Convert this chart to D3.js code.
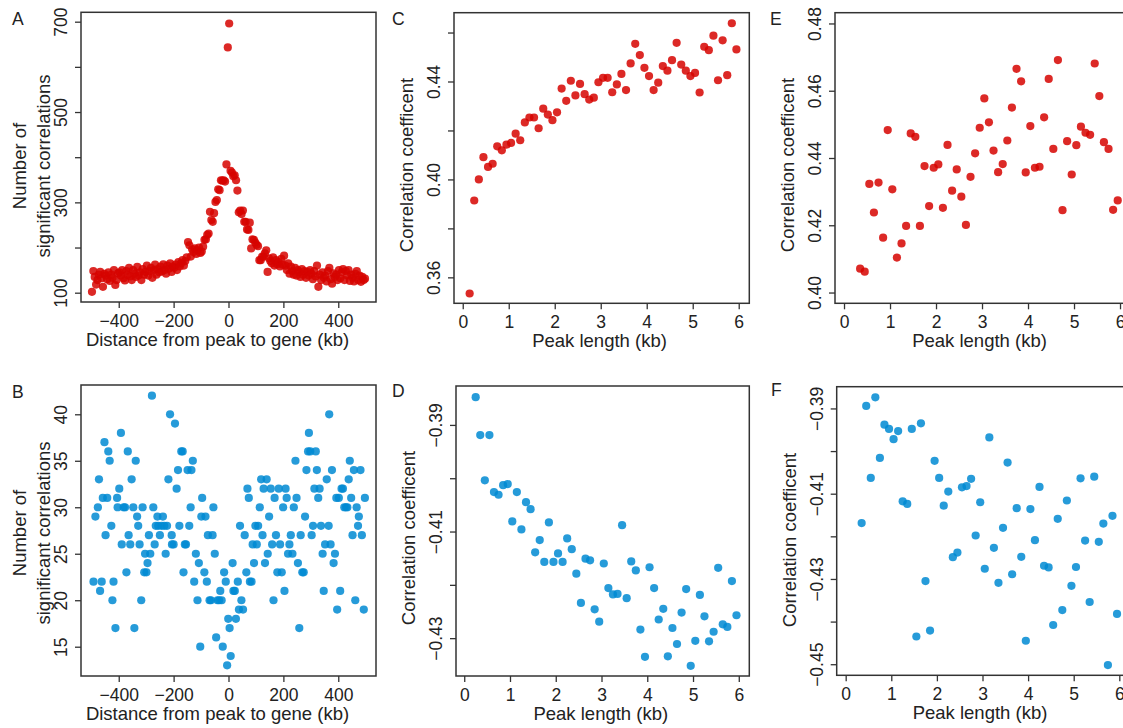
<!DOCTYPE html>
<html>
<head>
<meta charset="utf-8">
<script src="https://cdn.jsdelivr.net/npm/d3@7"></script>
<style>
  body { margin: 0; background: #fff; }
  text { font-family: "Liberation Sans", Arial, Helvetica, sans-serif; fill: #222; }
</style>
</head>
<body>
<svg id="fig" width="1123" height="728"></svg>
<script>
// ---- panel A: all peaks, distance bins (kb) vs number of significant correlations
const distA = [
  -497.5,-492.5,-487.5,-482.5,-477.5,-472.5,-467.5,-462.5,-457.5,-452.5,
  -447.5,-442.5,-437.5,-432.5,-427.5,-422.5,-417.5,-412.5,-407.5,-402.5,
  -397.5,-392.5,-387.5,-382.5,-377.5,-372.5,-367.5,-362.5,-357.5,-352.5,
  -347.5,-342.5,-337.5,-332.5,-327.5,-322.5,-317.5,-312.5,-307.5,-302.5,
  -297.5,-292.5,-287.5,-282.5,-277.5,-272.5,-267.5,-262.5,-257.5,-252.5,
  -247.5,-242.5,-237.5,-232.5,-227.5,-222.5,-217.5,-212.5,-207.5,-202.5,
  -197.5,-192.5,-187.5,-182.5,-177.5,-172.5,-167.5,-162.5,-157.5,-152.5,
  -147.5,-142.5,-137.5,-132.5,-127.5,-122.5,-117.5,-112.5,-107.5,-102.5,
  -97.5,-92.5,-87.5,-82.5,-77.5,-72.5,-67.5,-62.5,-57.5,-52.5,
  -47.5,-42.5,-37.5,-32.5,-27.5,-22.5,-17.5,-12.5,-7.5,-2.5,
  2.5,7.5,12.5,17.5,22.5,27.5,32.5,37.5,42.5,47.5,
  52.5,57.5,62.5,67.5,72.5,77.5,82.5,87.5,92.5,97.5,
  102.5,107.5,112.5,117.5,122.5,127.5,132.5,137.5,142.5,147.5,
  152.5,157.5,162.5,167.5,172.5,177.5,182.5,187.5,192.5,197.5,
  202.5,207.5,212.5,217.5,222.5,227.5,232.5,237.5,242.5,247.5,
  252.5,257.5,262.5,267.5,272.5,277.5,282.5,287.5,292.5,297.5,
  302.5,307.5,312.5,317.5,322.5,327.5,332.5,337.5,342.5,347.5,
  352.5,357.5,362.5,367.5,372.5,377.5,382.5,387.5,392.5,397.5,
  402.5,407.5,412.5,417.5,422.5,427.5,432.5,437.5,442.5,447.5,
  452.5,457.5,462.5,467.5,472.5,477.5,482.5,487.5,492.5,497.5
];
const countA = [
  102,148,135,118,128,140,146,132,113,142,
  138,130,145,126,140,133,150,117,128,143,
  145,138,150,132,127,148,140,155,136,128,
  150,142,135,157,138,145,128,152,140,146,
  160,138,148,155,133,150,162,140,152,145,
  158,147,163,150,142,160,153,165,146,158,
  155,162,150,168,158,165,172,160,170,178,
  212,205,180,196,190,198,186,194,200,188,
  191,202,217,218,228,231,279,261,257,276,
  301,305,329,327,349,348,349,346,384,643,
  696,370,366,358,360,349,326,278,282,274,
  282,257,257,240,239,255,198,218,217,211,
  206,203,172,172,180,180,187,194,146,176,
  170,165,178,160,172,163,168,158,175,162,
  182,160,150,165,142,158,148,140,155,138,
  150,145,135,152,140,148,133,146,138,150,
  142,130,148,136,160,113,140,128,145,133,
  138,125,148,155,130,120,143,135,140,128,
  150,132,145,152,128,148,138,150,126,140,
  133,125,142,148,128,138,124,135,128,131
];

// ---- panel B
const distB = [
  -492,-485,-476,-472,-468,-462,-458,-452,-448,-442,
  -438,-433,-427,-423,-419,-412,-406,-404,-398,-392,
  -389,-382,-377,-372,-367,-364,-358,-353,-347,-343,
  -338,-333,-329,-324,-318,-313,-307,-304,-299,-295,
  -290,-285,-279,-274,-269,-265,-259,-256,-250,-244,
  -239,-234,-229,-224,-219,-213,-207,-206,-200,-195,
  -189,-184,-179,-172,-167,-164,-159,-155,-149,-143,
  -138,-135,-130,-125,-119,-113,-108,-103,-99,-96,
  -88,-84,-79,-75,-69,-64,-58,-55,-50,-45,
  -40,-34,-30,-25,-21,-16,-10,-5,-1,4,
  8,15,18,23,27,34,38,42,47,53,
  59,65,69,74,78,84,88,93,98,103,
  108,114,119,124,128,133,139,143,148,154,
  159,164,168,173,178,183,188,194,199,204,
  208,212,217,222,227,233,238,244,248,253,
  258,263,269,274,279,284,290,293,298,303,
  308,313,318,322,327,332,337,343,347,352,
  358,365,367,372,377,383,388,393,396,402,
  407,412,417,422,428,433,438,442,447,452,
  457,462,467,472,475,481,486,493,497
];
const countB = [
  22,29,30,33,21,22,31,37,27,31,
  36,35,28,20,22,17,31,30,32,38,
  26,30,30,23,36,27,26,33,30,17,
  35,29,28,26,20,30,23,25,23,24,
  27,25,42,30,26,28,29,28,27,28,
  29,28,25,28,33,40,27,26,26,39,
  32,34,28,36,36,23,26,26,34,28,
  30,34,35,22,25,20,24,15,29,31,
  23,29,22,27,20,20,27,30,25,16,
  20,20,21,20,15,23,22,13,18,17,
  14,24,21,21,18,22,19,28,20,19,
  27,23,32,31,22,22,26,24,28,26,
  28,30,33,27,32,24,33,25,29,32,
  26,20,31,27,23,32,26,23,30,21,
  32,31,25,26,27,25,30,35,31,24,
  17,27,23,23,29,34,36,38,36,27,
  28,32,36,34,31,32,28,25,21,26,
  33,28,40,26,34,24,25,31,19,31,
  21,32,32,30,30,30,33,35,31,27,
  34,20,30,28,29,34,27,19,31
];

// ---- panel C
const lenC = [
  0.15,0.25,0.35,0.45,0.55,0.65,0.75,0.85,0.95,1.05,
  1.15,1.25,1.35,1.45,1.55,1.65,1.75,1.85,1.95,2.05,
  2.15,2.25,2.35,2.45,2.55,2.65,2.75,2.85,2.95,3.05,
  3.15,3.25,3.35,3.45,3.55,3.65,3.75,3.85,3.95,4.05,
  4.15,4.25,4.35,4.45,4.55,4.65,4.75,4.85,4.95,5.05,
  5.15,5.25,5.35,5.45,5.55,5.65,5.75,5.85,5.95
];
const corC = [
  0.3534,0.3914,0.4000,0.4091,0.4051,0.4064,0.4135,0.4119,0.4142,0.4149,
  0.4187,0.4160,0.4233,0.4253,0.4253,0.4209,0.4289,0.4265,0.4242,0.4274,
  0.4371,0.4321,0.4403,0.4343,0.4390,0.4348,0.4326,0.4334,0.4397,0.4415,
  0.4415,0.4356,0.4388,0.4431,0.4365,0.4474,0.4554,0.4508,0.4456,0.4422,
  0.4365,0.4395,0.4463,0.4444,0.4487,0.4558,0.4469,0.4444,0.4422,0.4435,
  0.4355,0.4542,0.4528,0.4587,0.4405,0.4568,0.4426,0.4638,0.4531
];

// ---- panel D
const lenD = [
  0.25,0.35,0.45,0.55,0.65,0.75,0.85,0.95,1.05,1.15,
  1.25,1.35,1.45,1.55,1.65,1.75,1.85,1.95,2.05,2.15,
  2.25,2.35,2.45,2.55,2.65,2.75,2.85,2.95,3.05,3.15,
  3.25,3.35,3.45,3.55,3.65,3.75,3.85,3.95,4.05,4.15,
  4.25,4.35,4.45,4.55,4.65,4.75,4.85,4.95,5.05,5.15,
  5.25,5.35,5.45,5.55,5.65,5.75,5.85,5.95
];
const corD = [
  -0.3848,-0.3919,-0.4004,-0.3919,-0.4026,-0.4031,-0.4013,-0.4011,-0.4081,-0.4026,
  -0.4096,-0.4045,-0.4058,-0.4139,-0.4116,-0.4157,-0.4083,-0.4157,-0.4141,-0.4157,
  -0.4113,-0.4133,-0.4179,-0.4234,-0.4151,-0.4154,-0.4246,-0.4269,-0.4160,-0.4206,
  -0.4218,-0.4217,-0.4088,-0.4225,-0.4156,-0.4173,-0.4284,-0.4335,-0.4167,-0.4206,
  -0.4265,-0.4245,-0.4334,-0.4281,-0.4311,-0.4252,-0.4208,-0.4352,-0.4305,-0.4219,
  -0.4259,-0.4306,-0.4288,-0.4168,-0.4274,-0.4279,-0.4193,-0.4257
];

// ---- panel E
const lenE = [
  0.35,0.45,0.55,0.65,0.75,0.85,0.95,1.05,1.15,1.25,
  1.35,1.45,1.55,1.65,1.75,1.85,1.95,2.05,2.15,2.25,
  2.35,2.45,2.55,2.65,2.75,2.85,2.95,3.05,3.15,3.25,
  3.35,3.45,3.55,3.65,3.75,3.85,3.95,4.05,4.15,4.25,
  4.35,4.45,4.55,4.65,4.75,4.85,4.95,5.05,5.15,5.25,
  5.35,5.45,5.55,5.65,5.75,5.85,5.95
];
const corE = [
  0.4071,0.4062,0.4323,0.4238,0.4327,0.4163,0.4483,0.4307,0.4104,0.4146,
  0.4198,0.4473,0.4463,0.4198,0.4376,0.4257,0.4371,0.4381,0.4252,0.4439,
  0.4303,0.4366,0.4285,0.4201,0.4344,0.4414,0.4490,0.4577,0.4506,0.4422,
  0.4358,0.4382,0.4452,0.4550,0.4665,0.4628,0.4357,0.4495,0.4371,0.4374,
  0.4521,0.4635,0.4427,0.4691,0.4245,0.4450,0.4351,0.4438,0.4493,0.4475,
  0.4469,0.4681,0.4584,0.4447,0.4427,0.4246,0.4274
];

// ---- panel F
const lenF = [
  0.35,0.45,0.55,0.65,0.75,0.85,0.95,1.05,1.15,1.25,
  1.35,1.45,1.55,1.65,1.75,1.85,1.95,2.05,2.15,2.25,
  2.35,2.45,2.55,2.65,2.75,2.85,2.95,3.05,3.15,3.25,
  3.35,3.45,3.55,3.65,3.75,3.85,3.95,4.05,4.15,4.25,
  4.35,4.45,4.55,4.65,4.75,4.85,4.95,5.05,5.15,5.25,
  5.35,5.45,5.55,5.65,5.75,5.85,5.95
];
const corF = [
  -0.4169,-0.3894,-0.4063,-0.3874,-0.4016,-0.3938,-0.3948,-0.3972,-0.3953,-0.4118,
  -0.4124,-0.3948,-0.4435,-0.3935,-0.4305,-0.4421,-0.4023,-0.4063,-0.4128,-0.4095,
  -0.4249,-0.4238,-0.4085,-0.4082,-0.4065,-0.4198,-0.4120,-0.4276,-0.3968,-0.4227,
  -0.4309,-0.4180,-0.4027,-0.4289,-0.4134,-0.4248,-0.4445,-0.4136,-0.4209,-0.4084,
  -0.4269,-0.4273,-0.4408,-0.4159,-0.4373,-0.4116,-0.4316,-0.4272,-0.4064,-0.4210,
  -0.4354,-0.4060,-0.4213,-0.4170,-0.4502,-0.4152,-0.4382
];

// tick values
const distTicks = [-400, -200, 0, 200, 400];
const lenTicks = [0, 1, 2, 3, 4, 5, 6];
const ticksA = [100, 200, 300, 400, 500, 600, 700], labelsA = [100, 300, 500, 700];
const ticksB = [15, 20, 25, 30, 35, 40], labelsB = ticksB;
const ticksC = [0.36, 0.38, 0.40, 0.42, 0.44, 0.46], labelsC = [0.36, 0.40, 0.44];
const ticksD = [-0.43, -0.42, -0.41, -0.40, -0.39], labelsD = [-0.43, -0.41, -0.39];
const ticksE = [0.40, 0.42, 0.44, 0.46, 0.48], labelsE = ticksE;
const ticksF = [-0.45, -0.44, -0.43, -0.42, -0.41, -0.40, -0.39], labelsF = [-0.45, -0.43, -0.41, -0.39];

const red = 'rgb(214,4,0)';
const blue = 'rgb(0,138,210)';
const ink = '#333';
const svg = d3.select('#fig');

const panels = [
  { letter: 'A', lx: 12, ly: 25, xs: distA, ys: countA, color: red,
    box: [81, 12.3, 376, 302], xd: [-537.5, 537.5], yd: [79.4, 720.8],
    xTicks: distTicks, yTicks: ticksA, yLabels: labelsA, yFmt: d3.format('d'),
    xTitle: 'Distance from peak to gene (kb)', xTitleX: 217.5,
    yTitle: ['Number of', 'significant correlations'], yTitleY: 166 },
  { letter: 'B', lx: 12, ly: 398, xs: distB, ys: countB, color: blue,
    box: [81, 385, 376, 676], xd: [-537.5, 537.5], yd: [11.85, 43.15],
    xTicks: distTicks, yTicks: ticksB, yLabels: labelsB, yFmt: d3.format('d'),
    xTitle: 'Distance from peak to gene (kb)', xTitleX: 217.5,
    yTitle: ['Number of', 'significant correlations'], yTitleY: 533 },
  { letter: 'C', lx: 392, ly: 25, xs: lenC, ys: corC, color: red,
    box: [454, 12.7, 749.3, 303.3], xd: [-0.19, 6.23], yd: [0.3494, 0.4681],
    xTicks: lenTicks, yTicks: ticksC, yLabels: labelsC, yFmt: d3.format('.2f'),
    xTitle: 'Peak length (kb)', xTitleX: 599.5,
    yTitle: ['Correlation coefficent'], yTitleY: 165 },
  { letter: 'D', lx: 392, ly: 397, xs: lenD, ys: corD, color: blue,
    box: [456, 386, 749.3, 676], xd: [-0.18, 6.23], yd: [-0.4371, -0.3827],
    xTicks: lenTicks, yTicks: ticksD, yLabels: labelsD, yFmt: d3.format('.2f'),
    xTitle: 'Peak length (kb)', xTitleX: 600.8,
    yTitle: ['Correlation coefficent'], yTitleY: 538 },
  { letter: 'E', lx: 770, ly: 25, xs: lenE, ys: corE, color: red,
    box: [835, 12.7, 1130.6, 303.3], xd: [-0.196, 6.23], yd: [0.3968, 0.4832],
    xTicks: lenTicks, yTicks: ticksE, yLabels: labelsE, yFmt: d3.format('.2f'),
    xTitle: 'Peak length (kb)', xTitleX: 979.5,
    yTitle: ['Correlation coefficent'], yTitleY: 165 },
  { letter: 'F', lx: 771, ly: 396, xs: lenF, ys: corF, color: blue,
    box: [836.7, 386.7, 1129.8, 675.3], xd: [-0.197, 6.23], yd: [-0.4526, -0.3849],
    xTicks: lenTicks, yTicks: ticksF, yLabels: labelsF, yFmt: d3.format('.2f'),
    xTitle: 'Peak length (kb)', xTitleX: 980,
    yTitle: ['Correlation coefficent'], yTitleY: 540 }
];

function drawPanel(p) {
  const [l, t, r, b] = p.box;
  const x = d3.scaleLinear().domain(p.xd).range([l, r]);
  const y = d3.scaleLinear().domain(p.yd).range([b, t]);
  const g = svg.append('g');

  // points
  g.append('g').selectAll('circle')
    .data(d3.zip(p.xs, p.ys))
    .join('circle')
    .attr('cx', d => x(d[0]))
    .attr('cy', d => y(d[1]))
    .attr('r', 4.1)
    .attr('fill', p.color)
    .attr('fill-opacity', 0.85);

  // frame
  g.append('rect')
    .attr('x', l).attr('y', t)
    .attr('width', r - l).attr('height', b - t)
    .attr('fill', 'none')
    .attr('stroke', ink)
    .attr('stroke-width', 1.5);

  // x axis
  const xa = g.append('g')
    .attr('transform', `translate(0,${b})`)
    .call(d3.axisBottom(x).tickValues(p.xTicks).tickSize(6).tickSizeOuter(0).tickFormat(d3.format('d')));
  xa.attr('font-family', null).attr('font-size', 17.5);
  xa.select('.domain').remove();
  xa.selectAll('.tick line').attr('stroke', ink).attr('stroke-width', 1.3);
  xa.selectAll('.tick text').attr('y', 25).attr('dy', null).attr('fill', '#222');

  // y axis, labels rotated as in R
  const ya = g.append('g')
    .attr('transform', `translate(${l},0)`)
    .call(d3.axisLeft(y).tickValues(p.yTicks).tickSize(6).tickSizeOuter(0)
      .tickFormat(v => p.yLabels.includes(v) ? p.yFmt(v) : ''));
  ya.attr('font-family', null).attr('font-size', 17.5);
  ya.select('.domain').remove();
  ya.selectAll('.tick line').attr('stroke', ink).attr('stroke-width', 1.3);
  ya.selectAll('.tick text')
    .attr('x', 0).attr('dy', '0.35em')
    .attr('text-anchor', 'middle')
    .attr('transform', 'translate(-20,0) rotate(-90)')
    .attr('fill', '#222');

  // titles
  g.append('text')
    .attr('x', p.xTitleX).attr('y', b + 44)
    .attr('text-anchor', 'middle')
    .attr('font-size', 18.5)
    .text(p.xTitle);

  const offs = p.yTitle.length === 2 ? [-61, -37] : [-47];
  p.yTitle.forEach((line, i) => {
    g.append('text')
      .attr('transform', `translate(${l + offs[i]},${p.yTitleY}) rotate(-90)`)
      .attr('dy', '0.35em')
      .attr('text-anchor', 'middle')
      .attr('font-size', 18.5)
      .text(line);
  });

  g.append('text')
    .attr('x', p.lx).attr('y', p.ly)
    .attr('font-size', 17.5)
    .text(p.letter);
}

panels.forEach(drawPanel);
</script>
</body>
</html>
